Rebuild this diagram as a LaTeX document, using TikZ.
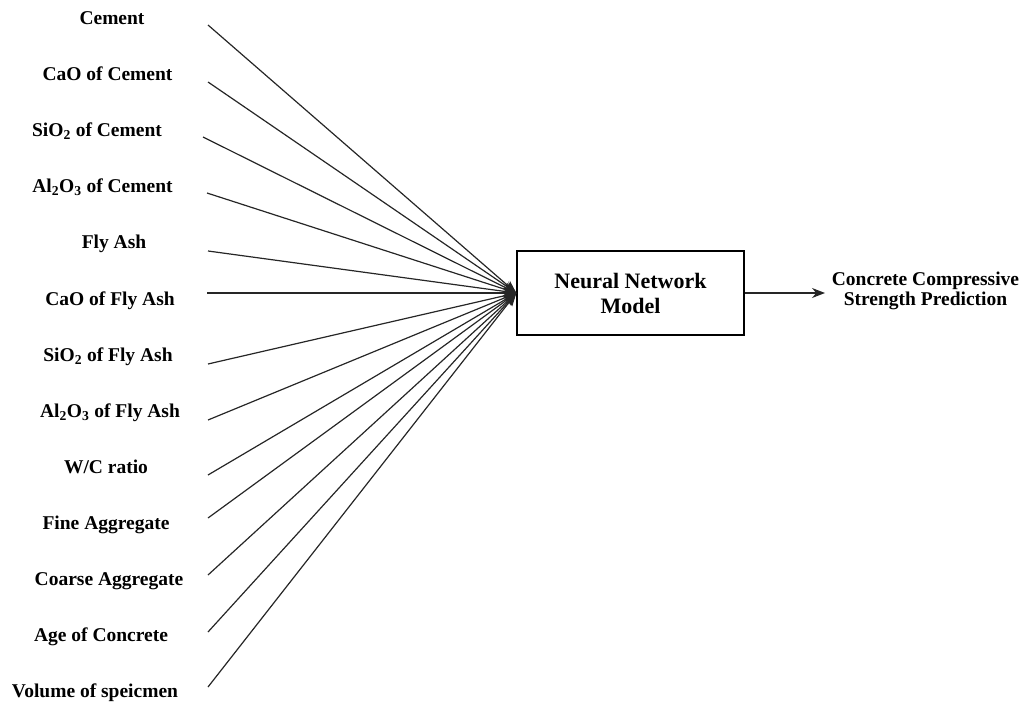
\documentclass[tikz,border=0pt]{standalone}
\usepackage{fontspec}
\setmainfont{Liberation Serif}
\usetikzlibrary{arrows.meta}
\begin{document}
\begin{tikzpicture}[x=1pt,y=-1pt,
  feature/.style={font=\fontsize{19.5}{20}\selectfont\bfseries, anchor=base, inner sep=0pt},
  link/.style={line width=1.2pt, draw=black!85, -{Stealth[length=13pt,width=10pt]}},
  model/.style={draw, line width=1.3pt, minimum width=227pt, minimum height=84pt,
                inner sep=0pt, align=center, font=\fontsize{22}{25}\selectfont\bfseries},
  result/.style={align=center, inner sep=0pt, font=\fontsize{19.5}{20}\selectfont\bfseries}]
  \useasboundingbox (0,0) rectangle (1024,706);

  % central model
  \node[model] (nn) at (630.5,293) {Neural Network\\Model};

  % input features: label x, label baseline, line start x, line start y
  \foreach \name/\txt/\lx/\ly/\sx/\sy in {
      f1/{Cement}/112/24.5/208/25,
      f2/{CaO of Cement}/107.5/80.6/208/82,
      f3/{SiO\textsubscript{2} of Cement}/97/136.7/203/137,
      f4/{Al\textsubscript{2}O\textsubscript{3} of Cement}/102.5/192.8/207/193,
      f5/{Fly Ash}/114/248.9/208/251,
      f6/{CaO of Fly Ash}/110/305/207/293,
      f7/{SiO\textsubscript{2} of Fly Ash}/108/361.1/208/364,
      f8/{Al\textsubscript{2}O\textsubscript{3} of Fly Ash}/110/417.2/208/420,
      f9/{W/C ratio}/106/473.3/208/475,
      f10/{Fine Aggregate}/106/529.4/208/518,
      f11/{Coarse Aggregate}/109/585.5/208/575,
      f12/{Age of Concrete}/101/641.6/208/632,
      f13/{Volume of speicmen}/95/697.7/208/687} {
    \node[feature] (\name) at (\lx,\ly) {\txt};
    \coordinate (\name-start) at (\sx,\sy);
    \draw[link] (\name-start) -- (nn.west);
  }

  % output
  \node[result] (out) at (925.5,291) {Concrete Compressive\\Strength Prediction};
  \coordinate (tip) at (825,293);
  \draw[link] (nn.east) -- (tip);
\end{tikzpicture}
\end{document}
